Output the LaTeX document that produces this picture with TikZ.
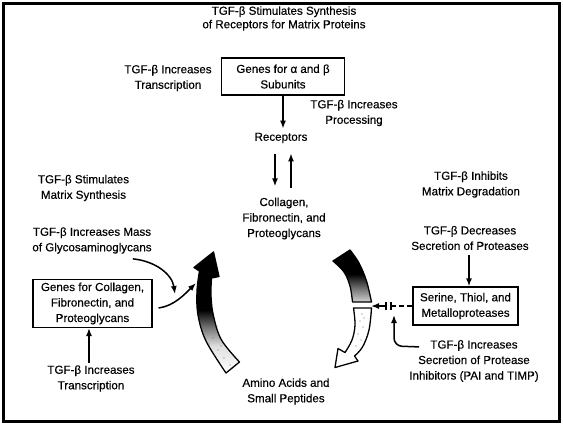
\documentclass[tikz,border=0pt]{standalone}
\usepackage{fontspec}
\setmainfont{Liberation Sans}[BoldFont=Liberation Sans, BoldFeatures={FakeBold=0.35}]
\usetikzlibrary{arrows.meta,calc}
\pgfdeclareverticalshading{leftfade}{100bp}{color(0bp)=(white); color(25bp)=(white); color(36bp)=(white!88!black); color(44bp)=(black!55); color(51bp)=(black); color(100bp)=(black)}
\pgfdeclareverticalshading{rightfade}{100bp}{color(0bp)=(black!18); color(25bp)=(black!18); color(38bp)=(black!55); color(52bp)=(black); color(100bp)=(black)}
\newcommand{\lblfont}{\fontsize{11.6}{15.5}\selectfont\bfseries}
\newcommand{\ttlfont}{\fontsize{11.6}{13.5}\selectfont\bfseries}
\tikzset{
  lbl/.style={font=\lblfont, align=center, inner sep=0pt},
  box/.style={lbl, draw, line width=1.2pt, inner sep=3pt},
  arr/.style={line width=1.5pt, -{Latex[length=8pt,width=6pt]}},
  bigarrow/.style={draw, line width=1.3pt, line join=round},
  speck/.style={fill=black!55}
}
\begin{document}
\begin{tikzpicture}[x=1pt,y=-1pt]
\useasboundingbox (0,0) rectangle (563,424);
\draw[line width=3pt] (3.5,3.5) rectangle (559.5,421.5);

% text nodes
\node[lbl, font=\ttlfont] (title) at (284,18.5) {TGF-β Stimulates Synthesis\\of Receptors for Matrix Proteins};
\node[box, minimum width=123pt, minimum height=37pt] (ab) at (283,76.5) {Genes for α and β\\Subunits};
\node[lbl] (tinc1) at (168,78) {TGF-β Increases\\Transcription};
\node[lbl] (tproc) at (354,113) {TGF-β Increases\\Processing};
\node[lbl] (rec) at (281,138) {Receptors};
\node[lbl] (coll) at (284,218.5) {Collagen,\\Fibronectin, and\\Proteoglycans};
\node[lbl] (tsms) at (83.5,188) {TGF-β Stimulates\\Matrix Synthesis};
\node[lbl] (tinh) at (471,184.5) {TGF-β Inhibits\\Matrix Degradation};
\node[lbl] (tmass) at (92,240.5) {TGF-β Increases Mass\\of Glycosaminoglycans};
\node[lbl] (tdec) at (470,238) {TGF-β Decreases\\Secretion of Proteases};
\node[box, minimum width=105pt, minimum height=38pt] (sp) at (465.5,306) {Serine, Thiol, and\\Metalloproteases};
\node[box, minimum width=119pt, minimum height=44pt] (gc) at (92.5,303.5) {Genes for Collagen,\\Fibronectin, and\\Proteoglycans};
\node[lbl] (ttr2) at (91,378.5) {TGF-β Increases\\Transcription};
\node[lbl] (tinhib) at (474,361) {TGF-β Increases\\Secretion of Protease\\Inhibitors (PAI and TIMP)};
\node[lbl] (amino) at (286,391.5) {Amino Acids and\\Small Peptides};

% straight arrows
\draw[arr, shorten >=4pt] (ab.south) -- (ab.south |- rec.north);
\draw[arr] ($(rec.south)+(-6,11)$) -- ($(coll.north)+(-9,-11)$);
\draw[arr] ($(coll.north)+(7,-9)$) -- ($(rec.south)+(10,10)$);
\draw[arr, shorten <=5pt] (tdec.south -| 469,0) -- (sp.north -| 469,0);
\draw[arr, shorten <=2pt] (ttr2.north -| 89,0) -- (gc.south -| 89,0);

% big left arrow (matrix synthesis)
\shade[bigarrow, shading=leftfade]
  plot[smooth, tension=0.6] coordinates {(226,373) (206,341) (198,315) (197,291) (199.5,271)}
  -- (194,267.5) -- (213.5,252) -- (219,276.5) -- (211.5,278)
  -- plot[smooth, tension=0.6] coordinates {(211.5,278) (211,296) (213.5,316) (221.5,340) (239.5,362)}
  -- cycle;
\foreach \p in {(206,330),(213,338),(209,344),(218,350),(214,355),(224,358),(230,365),(217,326),(221,346)}
  \fill[speck] \p circle (0.55);

% big right arrow (degradation), upper part
\shade[bigarrow, shading=rightfade]
  (333,261) -- (350,250)
  -- plot[smooth, tension=0.6] coordinates {(350,250) (359,263) (366.5,281) (371.5,302)}
  -- (352.5,302)
  -- plot[smooth, tension=0.6] coordinates {(352.5,302) (350,286) (344,272) (333,261)}
  -- cycle;
% lower part
\filldraw[bigarrow, fill=white]
  (353.5,308) -- (371.5,308)
  -- plot[smooth, tension=0.6] coordinates {(371.5,308) (369,330) (362.5,347) (354.5,356)}
  -- (358,361) -- (335,367.5) -- (338,348.5) -- (345,352.5)
  -- plot[smooth, tension=0.6] coordinates {(345,352.5) (352,340) (355,325) (353.5,308)}
  -- cycle;
\foreach \p in {(362,314),(360,321),(363,327),(358,334),(361,340),(356,346),(364,318)}
  \fill[speck] \p circle (0.55);

% curved arrows on the left
\coordinate (m1) at (175,294);
\coordinate (m2) at (196,283);
\draw[arr] ($(tmass.south east)+(-19,5)$) .. controls (155,261) and (172,274) .. (m1);
\draw[arr] ($(gc.east)+(6,4.5)$) .. controls (174,306) and (185,294) .. (m2);

% inhibition of degradation
\coordinate (b1) at (386,306);
\coordinate (b2) at (391,306);
\coordinate (ra) at (371,306);
\coordinate (iq) at (394,315);
\draw[line width=1.3pt, dash pattern=on 5pt off 3pt] (sp.west) -- (b2);
\draw[line width=1.3pt] ($(b2)+(0,-4)$) -- ($(b2)+(0,4)$);
\draw[line width=1.3pt] ($(b1)+(0,-4)$) -- ($(b1)+(0,4)$);
\draw[arr] (b1) -- (ra);
\draw[arr, rounded corners=8pt] ($(tinhib.north)+(-55,7)$) -- (394,346) -- (iq);
\end{tikzpicture}
\end{document}
